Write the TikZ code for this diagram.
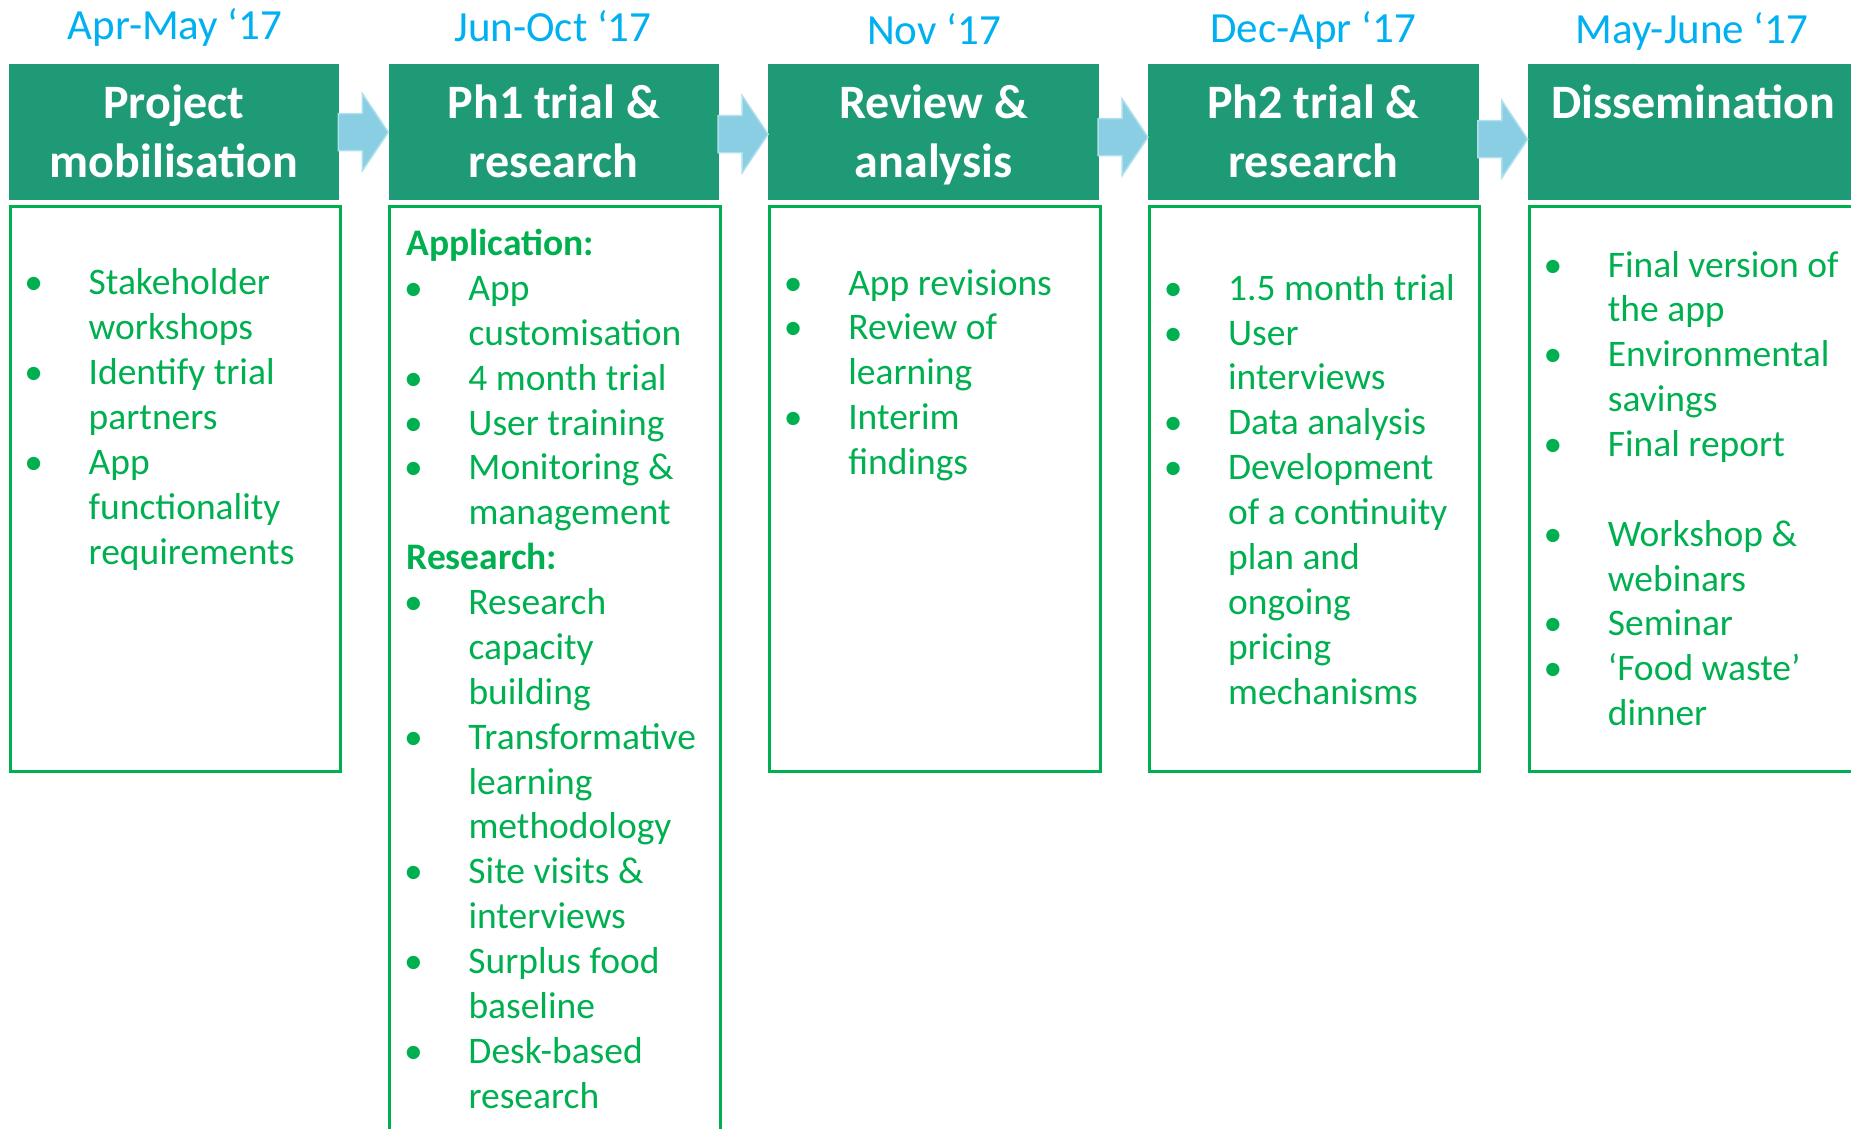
\documentclass[tikz,border=0pt]{standalone}
\usepackage{fontspec}
\setmainfont{Carlito}
\usetikzlibrary{calc}
\definecolor{hdrgreen}{RGB}{31,154,119}
\definecolor{txtgreen}{RGB}{0,176,80}
\definecolor{dateblue}{RGB}{0,176,240}
\definecolor{arrowblue}{RGB}{137,206,226}
\definecolor{arrowedge}{RGB}{175,224,237}
\newcommand\bul{\makebox[18pt][c]{\textbullet}\hspace{46pt}}
\newcommand\cnt{\hspace*{64pt}}
\newcommand\hd{\hspace*{2pt}}
\newcommand\blockarrow[3]{%
  \path[flow] let \p1=(#1.east), \p2=(#2.west) in
    (\x1-1pt,\y1-#3pt+18.5pt) -- (\x1+23pt,\y1-#3pt+18.5pt) -- (\x1+23pt,\y1-#3pt+38.5pt)
    -- (\x2,\y1-#3pt) -- (\x1+23pt,\y1-#3pt-38.5pt) -- (\x1+23pt,\y1-#3pt-18.5pt)
    -- (\x1-1pt,\y1-#3pt-18.5pt) -- cycle;}
\begin{document}
\begin{tikzpicture}[x=1pt,y=-1pt,
  hdr/.style={fill=hdrgreen, draw=none, minimum width=330.5pt, minimum height=136pt, inner sep=0pt, anchor=north west},
  hdrtxt/.style={text=white, font=\fontsize{48}{59}\bfseries\selectfont, inner sep=0pt, anchor=base},
  datelbl/.style={text=dateblue, font=\fontsize{43}{50}\selectfont, inner sep=0pt, anchor=base},
  bodybox/.style={draw=txtgreen, line width=3pt, fill=none, minimum width=330.5pt, inner sep=0pt, anchor=north west},
  bodytxt/.style={text=txtgreen, font=\fontsize{37.5}{44.86}\selectfont, inner sep=0pt, anchor=base west, align=left},
  flow/.style={fill=arrowblue, draw=arrowedge, line width=1.5pt}]
\useasboundingbox (0,0) rectangle (1851,1128);
\clip (0,0) rectangle (1851,1128);

% date labels
\node[datelbl] (d1) at (175,39) {Apr-May ‘17};
\node[datelbl] (d2) at (553,41) {Jun-Oct ‘17};
\node[datelbl] (d3) at (934,44) {Nov ‘17};
\node[datelbl] (d4) at (1313,42) {Dec-Apr ‘17};
\node[datelbl] (d5) at (1692,43) {May-June ‘17};

% headers
\node[hdr] (h1) at (8.5,64) {};
\node[hdr] (h2) at (388.3,64) {};
\node[hdr] (h3) at (768.1,64) {};
\node[hdr] (h4) at (1147.9,64) {};
\node[hdr] (h5) at (1527.7,64) {};

\node[hdrtxt] (t1a) at ($(h1.north)+(0,54)$) {Project};
\node[hdrtxt] (t1b) at ($(h1.north)+(0,113)$) {mobilisation};
\node[hdrtxt] (t2a) at ($(h2.north)+(0,54)$) {Ph1 trial \&};
\node[hdrtxt] (t2b) at ($(h2.north)+(0,113)$) {research};
\node[hdrtxt] (t3a) at ($(h3.north)+(0,54)$) {Review \&};
\node[hdrtxt] (t3b) at ($(h3.north)+(0,113)$) {analysis};
\node[hdrtxt] (t4a) at ($(h4.north)+(0,54)$) {Ph2 trial \&};
\node[hdrtxt] (t4b) at ($(h4.north)+(0,113)$) {research};
\node[hdrtxt] (t5a) at ($(h5.north)+(0,54)$) {Dissemination};

% arrows
\blockarrow{h1}{h2}{0}
\blockarrow{h2}{h3}{2}
\blockarrow{h3}{h4}{5}
\blockarrow{h4}{h5}{7}

% body boxes
\node[bodybox, minimum height=565pt] (b1) at (8.5,205) {};
\node[bodybox, minimum height=1000pt] (b2) at (388.3,205) {};
\node[bodybox, minimum height=565pt] (b3) at (768.1,205) {};
\node[bodybox, minimum height=565pt] (b4) at (1147.9,205) {};
\node[bodybox, minimum height=565pt] (b5) at (1527.7,205) {};

% body texts (anchored at the baseline of the last line)
\node[bodytxt] (x1) at (24.5,564) {\bul Stakeholder\\\cnt workshops\\\bul Identify trial\\\cnt partners\\\bul App\\\cnt functionality\\\cnt requirements};
\node[bodytxt] (x2) at (404.3,1108) {\hd\textbf{Application:}\\\bul App\\\cnt customisation\\\bul 4 month trial\\\bul User training\\\bul Monitoring \&\\\cnt management\\\hd\textbf{Research:}\\\bul Research\\\cnt capacity\\\cnt building\\\bul Transformative\\\cnt learning\\\cnt methodology\\\bul Site visits \&\\\cnt interviews\\\bul Surplus food\\\cnt baseline\\\bul Desk-based\\\cnt research};
\node[bodytxt] (x3) at (784.1,474.5) {\bul App revisions\\\bul Review of\\\cnt learning\\\bul Interim\\\cnt findings};
\node[bodytxt] (x4) at (1163.9,704) {\bul 1.5 month trial\\\bul User\\\cnt interviews\\\bul Data analysis\\\bul Development\\\cnt of a continuity\\\cnt plan and\\\cnt ongoing\\\cnt pricing\\\cnt mechanisms};
\node[bodytxt] (x5) at (1543.7,725.6) {\bul Final version of\\\cnt the app\\\bul Environmental\\\cnt savings\\\bul Final report\\\mbox{}\\\bul Workshop \&\\\cnt webinars\\\bul Seminar\\\bul ‘Food waste’\\\cnt dinner};
\end{tikzpicture}
\end{document}
